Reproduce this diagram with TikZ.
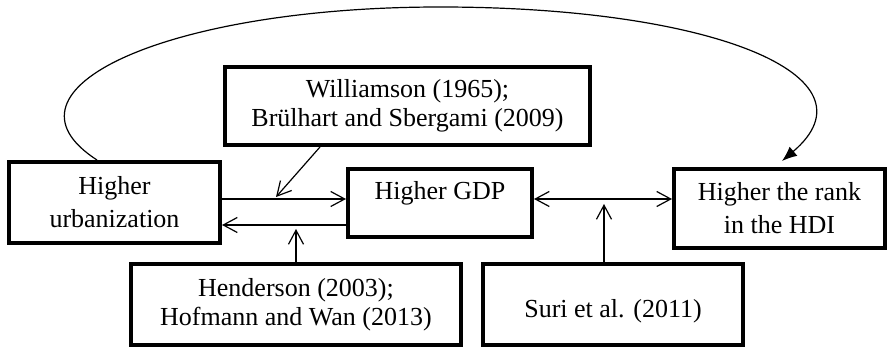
\documentclass[tikz,border=0pt]{standalone}
\usepackage{fontspec}
\setmainfont{Liberation Serif}
\usetikzlibrary{arrows.meta, calc}

\tikzset{
  box/.style={draw, line width=4pt, inner sep=0pt, align=center,
    font=\fontsize{26}{33}\selectfont},
  tightbox/.style={box, font=\fontsize{26}{29}\selectfont},
  link/.style={line width=1.2pt},
}

\begin{document}
\begin{tikzpicture}[x=1pt, y=-1pt, >={Straight Barb[length=14pt,width=15pt]}]
  \useasboundingbox (0,0) rectangle (892,352);

  % boxes
  \node [box, minimum width=211pt, minimum height=81pt] (urb) at (114.5,202.5) {Higher\\urbanization};
  \node [box, minimum width=184pt, text height=31pt, text depth=37pt] (gdp) at (440,203) {Higher GDP};
  \node [box, minimum width=211pt, minimum height=79pt] (rank) at (779.5,208.5) {Higher the rank\\in the HDI};
  \node [tightbox, minimum width=365pt, minimum height=78pt] (will) at (407.5,106) {Williamson (1965);\\Brülhart and Sbergami (2009)};
  \node [tightbox, minimum width=330pt, minimum height=81pt] (hend) at (296,304.5) {Henderson (2003);\\Hofmann and Wan (2013)};
  \node [box, minimum width=260pt, minimum height=81pt, text height=33pt, text depth=6pt] (suri) at (613,304.5) {Suri et al. (2011)};

  \coordinate (wtip) at (276,197);
  \coordinate (htip) at (296,229);
  \coordinate (stip) at (604,204);
  \coordinate (top) at (440,7);

  % links
  \draw [link, ->] ([yshift=3.5pt]urb.east) -- ([yshift=3.5pt]urb.east -| gdp.west);
  \draw [link, ->] ([yshift=-22.5pt]urb.east -| gdp.west) -- ([yshift=-22.5pt]urb.east);
  \draw [link, <->] ([yshift=4pt]gdp.east) -- ([yshift=4pt]gdp.east -| rank.west);
  \draw [link, ->] ([xshift=-87.5pt]will.south) -- (wtip);
  \draw [link, ->] (hend.north) -- (htip);
  \draw [link, ->] ([xshift=-9pt]suri.north) -- (stip);

  % loop back
  \draw [link, -{Latex[length=15pt,width=12pt]}] ([xshift=-17.5pt]urb.north)
    .. controls +(-110,-71) and +(-272,0) .. (top)
    .. controls +(272,0) and +(100,-85) .. ([xshift=2.5pt,yshift=6pt]rank.north);
\end{tikzpicture}
\end{document}
